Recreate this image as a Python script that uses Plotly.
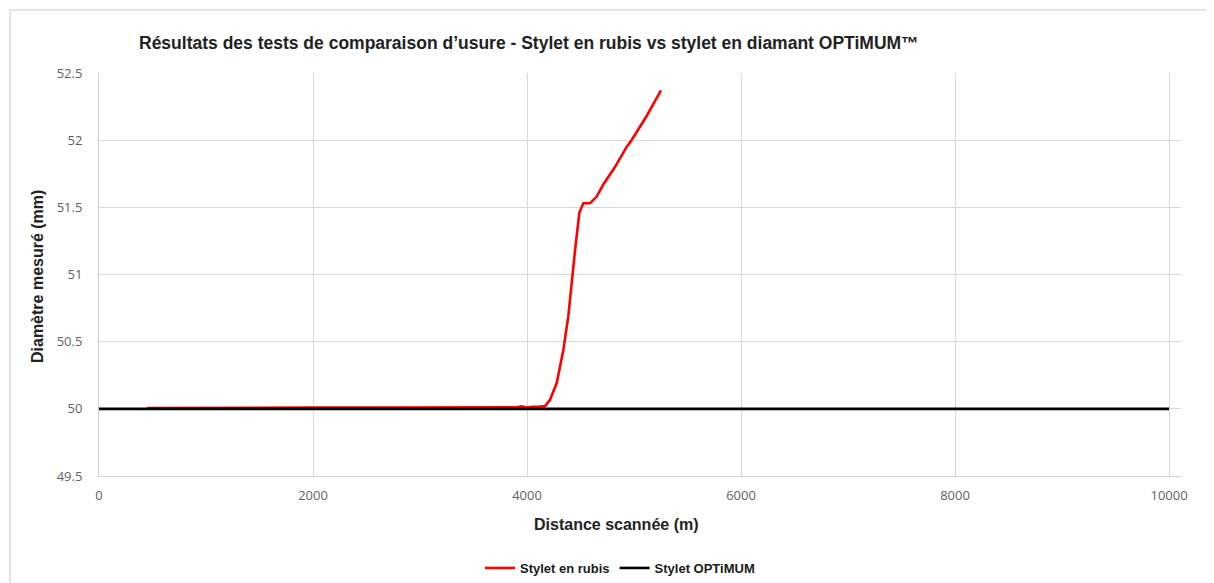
import plotly.graph_objects as go

# ---- data ----
rubis_distance = [450, 900, 1400, 2000, 2600, 3200, 3700, 3900, 3950, 4000, 4050, 4100, 4168,
                  4215, 4277, 4340, 4386, 4417, 4449, 4489, 4526, 4589, 4651, 4713, 4822,
                  4931, 4977, 5118, 5252]
rubis_diameter = [50.005, 50.008, 50.01, 50.01, 50.01, 50.01, 50.01, 50.012, 50.018, 50.01, 50.016, 50.015, 50.02,
                  50.067, 50.19, 50.44, 50.69, 50.94, 51.18, 51.46, 51.53, 51.53, 51.58, 51.67, 51.80,
                  51.95, 52.00, 52.18, 52.37]
optimum_distance = [0, 10000]
optimum_diameter = [50, 50]

x_ticks = [0, 2000, 4000, 6000, 8000, 10000]
x_tick_labels = ["0", "2000", "4000", "6000", "8000", "10000"]
y_ticks = [49.5, 50, 50.5, 51, 51.5, 52, 52.5]
y_tick_labels = ["49.5", "50", "50.5", "51", "51.5", "52", "52.5"]

title_text = "Résultats des tests de comparaison d’usure - Stylet en rubis vs stylet en diamant OPTiMUM™"
x_title = "Distance scannée (m)"
y_title = "Diamètre mesuré (mm)"

# ---- layout geometry (pixels; page body has an 8px margin) ----
OFF = 8
W, H = 1214 - OFF, 583 - OFF
L, R, T, B = 99 - OFF, 33, 73 - OFF, 107
PW, PH = W - L - R, H - T - B
PL, PB = 99, 476  # plot-area left / bottom in window pixels


def px(xp):
    return (xp - PL) / PW


def py(yp):
    return (PB - yp) / PH


fig = go.Figure()
fig.add_trace(go.Scatter(x=rubis_distance, y=rubis_diameter, mode="lines",
                         name="Stylet en rubis",
                         line=dict(color="#ff0000", width=2.6)))
fig.add_trace(go.Scatter(x=optimum_distance, y=optimum_diameter, mode="lines",
                         name="Stylet OPTiMUM",
                         line=dict(color="#000000", width=2.6)))

axis_font = dict(family="Open Sans, DejaVu Sans, sans-serif", size=13, color="#5f5f5f")
bold_font = "Liberation Sans, Arial, sans-serif"
fig.update_layout(
    width=W, height=H,
    margin=dict(l=L, r=R, t=T, b=B, autoexpand=False),
    paper_bgcolor="white", plot_bgcolor="white",
    showlegend=True,
    legend=dict(orientation="h", x=px(620), y=py(568), xanchor="center", yanchor="middle",
                font=dict(family=bold_font, size=13, color="#1a1a1a", weight="bold"),
                itemwidth=30, tracegroupgap=0, bgcolor="rgba(0,0,0,0)"),
    xaxis=dict(range=[0, 10112], tickvals=x_ticks, ticktext=x_tick_labels, showgrid=True,
               gridcolor="#d9d9d9", gridwidth=1, showline=True, linecolor="#d0d0d0",
               linewidth=1, zeroline=False, ticks="", tickfont=axis_font, ticklabelstandoff=7),
    yaxis=dict(range=[49.5, 52.5], tickvals=y_ticks, ticktext=y_tick_labels, showgrid=True,
               gridcolor="#d9d9d9", gridwidth=1, showline=True, linecolor="#d0d0d0",
               linewidth=1, zeroline=False, ticks="", tickfont=axis_font, ticklabelstandoff=13),
)

fig.add_annotation(text="<b>" + title_text + "</b>", x=px(529), y=py(43), xref="paper", yref="paper",
                   showarrow=False, xanchor="center", yanchor="middle",
                   font=dict(family=bold_font, size=17.5, color="#222222"))
fig.add_annotation(text="<b>" + x_title + "</b>", x=px(616), y=py(524), xref="paper", yref="paper",
                   showarrow=False, xanchor="center", yanchor="middle",
                   font=dict(family=bold_font, size=16, color="#222222"))
fig.add_annotation(text="<b>" + y_title + "</b>", x=px(37), y=py(277), xref="paper", yref="paper",
                   showarrow=False, xanchor="center", yanchor="middle", textangle=-90,
                   font=dict(family=bold_font, size=16, color="#222222"))

# chart frame (light grey, top and left edges visible)
fig.add_shape(type="rect", xref="paper", yref="paper",
              x0=px(10), x1=px(1240), y0=py(600), y1=py(10),
              line=dict(color="#dcdcdc", width=1.5), layer="below")

fig.write_html("out.html")
